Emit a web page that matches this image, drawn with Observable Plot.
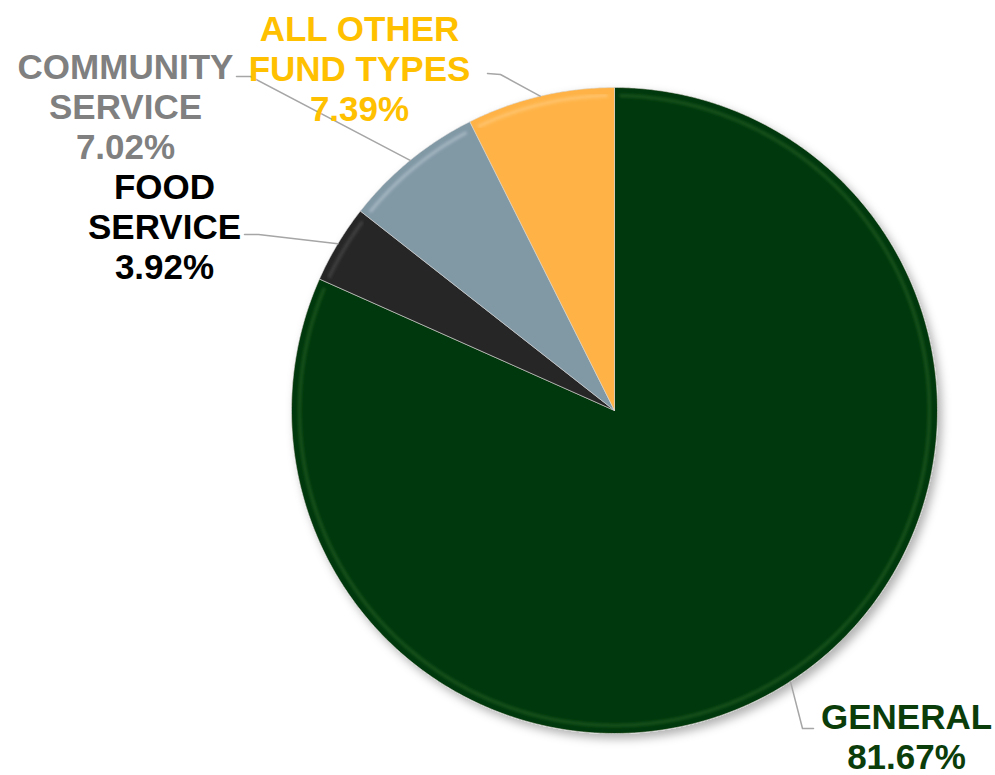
<!DOCTYPE html>
<html><head><meta charset="utf-8">
<script src="https://cdn.jsdelivr.net/npm/d3@7"></script>
<script src="https://cdn.jsdelivr.net/npm/@observablehq/plot@0.6"></script>
<style>body{margin:0;background:#fff} #chart svg{display:block}</style>
</head><body><div id="chart"></div>
<script>
// ---- data ----
const categories = ["GENERAL", "FOOD SERVICE", "COMMUNITY SERVICE", "ALL OTHER FUND TYPES"];
const shares = [81.67, 3.92, 7.02, 7.39];
const labelLines = [["GENERAL"], ["FOOD", "SERVICE"], ["COMMUNITY", "SERVICE"], ["ALL OTHER", "FUND TYPES"]];

// ---- styles / layout ----
const sliceColors = ["#063708", "#262626", "#8198a5", "#ffb347"];
const rimColors = ["#2f6b2a", "#5a5a5a", "#c4d4dd", "#ffd490"];
const labelColors = ["#0b3d0b", "#000000", "#808080", "#ffc000"];
const W = 995, H = 775, CX = 614, CY = 410, R = 323;
const labelLayout = [
  {x: 906, y: 700, lead: [[813, 728], [802, 728]]},
  {x: 164, y: 170, lead: [[244, 234], [258, 234]]},
  {x: 125, y: 50, lead: [[236, 76], [250, 76]]},
  {x: 359, y: 12, lead: [[487, 73], [500, 74]]}
];
const ux = px => (px - CX) / R;
const uy = py => (CY - py) / R;

// ---- geometry from data ----
const pie = d3.pie().sort(null).value(d => d.share).startAngle(0).endAngle(2 * Math.PI);
const rows = categories.map((c, i) => ({cat: c, share: shares[i], i}));
const arcs = pie(rows);
const polys = [], rims = [], leaders = [], labels = [];
const step = Math.PI / 360;
arcs.forEach(a => {
  const c = a.data.cat, i = a.data.i;
  polys.push({cat: c, x: 0, y: 0});
  for (let t = a.startAngle; t < a.endAngle; t += step) polys.push({cat: c, x: Math.sin(t), y: Math.cos(t)});
  polys.push({cat: c, x: Math.sin(a.endAngle), y: Math.cos(a.endAngle)});
  polys.push({cat: c, x: 0, y: 0});
  const rr = 0.975, pad = 0.02;
  for (let t = a.startAngle + pad; t < a.endAngle - pad; t += step) rims.push({cat: c, x: rr * Math.sin(t), y: rr * Math.cos(t)});
  const mid = (a.startAngle + a.endAngle) / 2;
  const L = labelLayout[i];
  leaders.push({cat: c, x: ux(L.lead[0][0]), y: uy(L.lead[0][1])});
  leaders.push({cat: c, x: ux(L.lead[1][0]), y: uy(L.lead[1][1])});
  leaders.push({cat: c, x: Math.sin(mid), y: Math.cos(mid)});
  labels.push({cat: c, x: ux(L.x), y: uy(L.y), text: labelLines[i].join("\n") + "\n" + a.data.share.toFixed(2) + "%"});
});

const rimMarks = categories.map((c, i) =>
  Plot.line(rims.filter(d => d.cat === c), {x: "x", y: "y", stroke: rimColors[i], strokeWidth: 3, strokeOpacity: 0.55}));
const labelMarks = categories.map((c, i) =>
  Plot.text(labels.filter(d => d.cat === c), {x: "x", y: "y", text: "text", fill: labelColors[i], fontSize: 35, fontWeight: "bold", fontFamily: "Arial, 'Liberation Sans', sans-serif", lineAnchor: "top", lineHeight: 40 / 35, textAnchor: "middle"}));

const chart = Plot.plot({
  width: W, height: H,
  margin: 0,
  x: {domain: [ux(0), ux(W)], axis: null},
  y: {domain: [uy(H), uy(0)], axis: null},
  color: {domain: categories, range: sliceColors},
  marks: [
    Plot.line(polys, {x: "x", y: "y", z: "cat", fill: "cat", stroke: "#d9d9d9", strokeOpacity: 0.6, strokeWidth: 1}),
    ...rimMarks,
    Plot.line(leaders, {x: "x", y: "y", z: "cat", stroke: "#a6a6a6", strokeWidth: 1.5}),
    ...labelMarks
  ]
});
const svg = d3.select(chart);
const defs = svg.insert("defs", ":first-child");
const f = defs.append("filter").attr("id", "pieShadow").attr("x", "-10%").attr("y", "-10%").attr("width", "125%").attr("height", "125%");
f.append("feDropShadow").attr("dx", 4).attr("dy", 5).attr("stdDeviation", 5).attr("flood-color", "#000").attr("flood-opacity", 0.3);
const fb = defs.append("filter").attr("id", "rimBlur").attr("x", "-5%").attr("y", "-5%").attr("width", "110%").attr("height", "110%");
fb.append("feGaussianBlur").attr("stdDeviation", 1.6);
const lineGroups = svg.selectAll('g[aria-label="line"]').nodes();
d3.select(lineGroups[0]).attr("filter", "url(#pieShadow)");
for (let k = 1; k <= categories.length; k++) d3.select(lineGroups[k]).attr("filter", "url(#rimBlur)");
document.getElementById("chart").appendChild(chart);
</script>
</body></html>
